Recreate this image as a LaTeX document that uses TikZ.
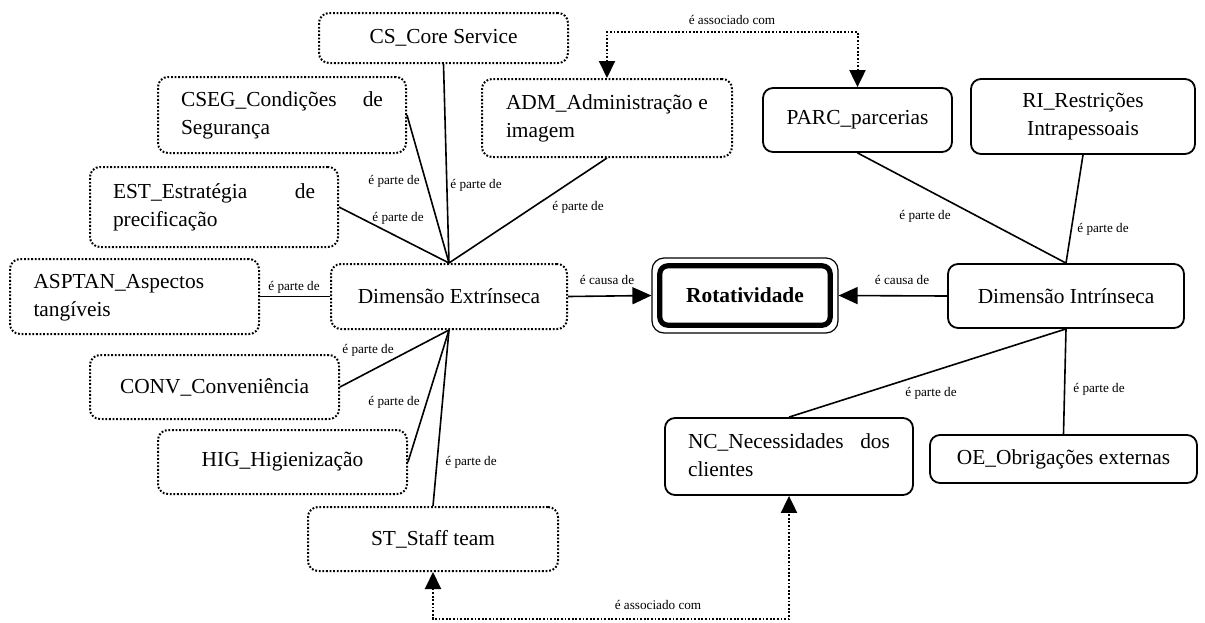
\documentclass[tikz,border=0pt]{standalone}
\usepackage{fontspec}
\setmainfont{Liberation Serif}
\usepackage{tikz}
\usetikzlibrary{arrows.meta}
\usetikzlibrary{positioning}

\begin{document}
\begin{tikzpicture}[x=0.5pt, y=-0.5pt,
  caixa/.style={draw, rounded corners=5pt, line width=0.9pt, inner sep=0pt, font=\fontsize{10.7}{14}\selectfont},
  pontilhada/.style={caixa, line width=1pt, dash pattern=on 0.9pt off 0.9pt},
  rotulo/.style={font=\fontsize{6.6}{8}\selectfont, inner sep=0pt},
  parte/.style={line width=0.8pt},
  causa/.style={line width=0.8pt, -{Triangle[length=9.5pt,width=8.5pt]}},
  assoc/.style={line width=1pt, dash pattern=on 0.9pt off 0.9pt, {Triangle[length=8.5pt,width=8pt]}-{Triangle[length=8.5pt,width=8pt]}}]

\useasboundingbox (0,0) rectangle (1205,622);
%\draw [help lines, step=50](0,0) grid (1205,622);

% dimensao extrinseca
\node[pontilhada, minimum width=124.5pt, minimum height=25pt] (cs) at (443.5,38) {CS\_Core Service};
\node[pontilhada, minimum width=124pt, minimum height=38pt] (cseg) at (282,115) {\begin{tabular}{@{}p{101pt}@{}}CSEG\_Condições\hfill de\\Segurança\end{tabular}};
\node[pontilhada, minimum width=125pt, minimum height=39pt] (adm) at (607,118) {\begin{tabular}{@{}p{101pt}@{}}ADM\_Administração\hfill e\\imagem\end{tabular}};
\node[pontilhada, minimum width=124pt, minimum height=40pt] (est) at (214,207) {\begin{tabular}{@{}p{101pt}@{}}EST\_Estratégia\hfill de\\precificação\end{tabular}};
\node[pontilhada, minimum width=124.5pt, minimum height=37.5pt] (asptan) at (134.5,296.5) {\begin{tabular}{@{}p{101pt}@{}}ASPTAN\_Aspectos\\tangíveis\end{tabular}};
\node[pontilhada, minimum width=118pt, minimum height=32.5pt] (dimext) at (449,296.5) {Dimensão Extrínseca};
\node[pontilhada, minimum width=124.5pt, minimum height=32pt] (conv) at (214.5,387) {CONV\_Conveniência};
\node[pontilhada, minimum width=124.5pt, minimum height=32pt] (hig) at (282.5,462) {HIG\_Higienização};
\node[pontilhada, minimum width=125pt, minimum height=32pt] (st) at (433,539) {ST\_Staff team};

% rotatividade
\node[caixa, line width=0.6pt, rounded corners=6pt, minimum width=93pt, minimum height=37.5pt, font=\fontsize{10.7}{14}\selectfont\bfseries] (rot) at (745,295.5) {Rotatividade};
\draw[line width=2.6pt, rounded corners=4pt] ([shift={(4.2pt,-4.2pt)}]rot.north west) rectangle ([shift={(-4.2pt,4.2pt)}]rot.south east);

% dimensao intrinseca
\node[caixa, minimum width=118pt, minimum height=32pt] (dimint) at (1066,296) {Dimensão Intrínseca};
\node[caixa, minimum width=94.5pt, minimum height=32pt] (parc) at (857.5,120) {PARC\_parcerias};
\node[caixa, minimum width=112pt, minimum height=37.5pt, align=center] (ri) at (1083,116.5) {RI\_Restrições\\Intrapessoais};
\node[caixa, minimum width=124pt, minimum height=38.5pt] (nc) at (789,456.5) {\begin{tabular}{@{}p{101pt}@{}}NC\_Necessidades\hfill dos\\clientes\end{tabular}};
\node[caixa, minimum width=133.5pt, minimum height=24pt] (oe) at (1063.5,459) {OE\_Obrigações externas};

\draw[parte] (cseg.east) -- (dimext.north);
\draw[parte] (cs.south) -- (dimext.north);
\draw[parte] (est.east) -- (dimext.north);
\draw[parte] (adm.south) -- (dimext.north);
\draw[parte] (asptan.east) -- (dimext.west);
\draw[parte] (conv.east) -- (dimext.south);
\draw[parte] (hig.east) -- (dimext.south);
\draw[parte] (st.north) -- (dimext.south);
\draw[parte] (parc.south) -- (dimint.north);
\draw[parte] (ri.south) -- (dimint.north);
\draw[parte] (nc.north) -- (dimint.south);
\draw[parte] (oe.north) -- (dimint.south);

\draw[causa] (dimext.east) -- (rot.west);
\draw[causa] (dimint.west) -- (rot.east);

\coordinate (topo) at (0,32);
\coordinate (fundo) at (0,619);
\draw[assoc] (adm.north) -- (adm.north |- topo) -| (parc.north);
\draw[assoc] (st.south) -- (st.south |- fundo) -| (nc.south);

\node[rotulo] (lcseg) at (394,181) {é parte de};
\node[rotulo] (lcs) at (476,185) {é parte de};
\node[rotulo] (lest) at (398,218) {é parte de};
\node[rotulo] (ladm) at (578,207) {é parte de};
\node[rotulo] (lasptan) at (294,287) {é parte de};
\node[rotulo] (lconv) at (368,350) {é parte de};
\node[rotulo] (lhig) at (394,402) {é parte de};
\node[rotulo] (lst) at (471,462) {é parte de};
\node[rotulo] (lparc) at (925,216) {é parte de};
\node[rotulo] (lri) at (1103,229) {é parte de};
\node[rotulo] (lnc) at (931,393) {é parte de};
\node[rotulo] (loe) at (1099,389) {é parte de};
\node[rotulo] (lext) at (607,280) {é causa de};
\node[rotulo] (lint) at (902,280) {é causa de};
\node[rotulo] (ltopo) at (732,20) {é associado com};
\node[rotulo] (lfundo) at (658,605) {é associado com};

\end{tikzpicture}
\end{document}
